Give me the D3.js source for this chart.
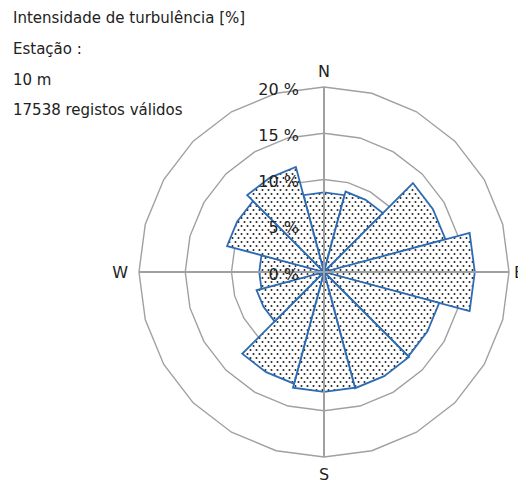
<!DOCTYPE html>
<html><head><meta charset="utf-8">
<script src="https://cdn.jsdelivr.net/npm/d3@7"></script>
<style>body{margin:0;background:#fff}svg{display:block}</style>
</head><body>
<script>
const directions = ["N","NNE","ENE","E","ESE","SSE","S","SSW","WSW","W","WNW","NNW"];
const sectorAngles = [0,30,60,90,120,150,180,210,240,270,300,330];
const frequencies = [8.6,9.0,13.6,16.3,12.9,13.0,12.95,12.5,7.55,7.0,10.85,11.75];
const ringValues = [5,10,15,20];
const tickValues = [0,5,10,15,20];
const tickLabels = ["0 %","5 %","10 %","15 %","20 %"];
const compassLabels = ["N","E","S","W"];
const headerLines = ["Intensidade de turbulência [%]","Estação :","10 m","17538 registos válidos"];

const W = 518, H = 483, cx = 324, cy = 272;
const svg = d3.select("body").append("svg").attr("width",W).attr("height",H);
const defs = svg.append("defs");
const pat = defs.append("pattern").attr("id","dots").attr("patternUnits","userSpaceOnUse")
  .attr("width",6).attr("height",8);
pat.append("rect").attr("width",6).attr("height",8).attr("fill","#fff");
pat.append("circle").attr("cx",1.5).attr("cy",2).attr("r",1.0).attr("fill","#222");
pat.append("circle").attr("cx",4.5).attr("cy",6).attr("r",1.0).attr("fill","#222");

const r = d3.scaleLinear().domain([0,20]).range([0,185]);
const rad = d => d*Math.PI/180;
const g = svg.append("g").attr("transform",`translate(${cx},${cy})`);

// grid rings: 24-gon
const gridAngles = d3.range(0,360,15);
const ringLine = d3.lineRadial().angle(d=>rad(d.a)).radius(d=>r(d.v)).curve(d3.curveLinearClosed);
g.selectAll("path.ring").data(ringValues).join("path").attr("class","ring")
  .attr("d",v=>ringLine(gridAngles.map(a=>({a,v}))))
  .attr("fill","none").attr("stroke","#a0a0a0").attr("stroke-width",1.4);

// bars
const barLine = d3.lineRadial().angle(d=>rad(d.a)).radius(d=>r(d.v)).curve(d3.curveLinearClosed);
const bars = sectorAngles.map((a,i)=>({a,v:frequencies[i]}));
g.selectAll("path.bar").data(bars).join("path").attr("class","bar")
  .attr("d",d=>barLine([{a:d.a,v:0},{a:d.a-15,v:d.v},{a:d.a,v:d.v},{a:d.a+15,v:d.v}]))
  .attr("fill","url(#dots)").attr("stroke","#2e6bb5").attr("stroke-width",1.8).attr("stroke-linejoin","miter");

// axes
const R = r(20);
g.append("line").attr("x1",0).attr("y1",-R).attr("x2",0).attr("y2",R).attr("stroke","#a0a0a0").attr("stroke-width",2);
g.append("line").attr("x1",-R).attr("y1",0).attr("x2",R).attr("y2",0).attr("stroke","#a0a0a0").attr("stroke-width",2);

// tick labels
g.selectAll("text.tick").data(tickValues).join("text").attr("class","tick")
  .attr("x",-25).attr("y",v=>-r(v)+2).attr("text-anchor","end").attr("dominant-baseline","central")
  .attr("font-family","DejaVu Sans").attr("font-size",16).attr("fill","#222")
  .text((v,i)=>tickLabels[i]);

// compass labels
const compassPos = {N:[0,-R-16,"middle"],S:[0,R+17,"middle"],E:[R+5,0,"start"],W:[-R-11,0,"end"]};
g.selectAll("text.cmp").data(compassLabels).join("text").attr("class","cmp")
  .attr("x",d=>compassPos[d][0]).attr("y",d=>compassPos[d][1]).attr("text-anchor",d=>compassPos[d][2])
  .attr("dominant-baseline","central").attr("font-family","DejaVu Sans").attr("font-size",16).attr("fill","#222")
  .text(d=>d);

// header
svg.selectAll("text.hdr").data(headerLines).join("text").attr("class","hdr")
  .attr("x",13).attr("y",(d,i)=>[23,54,85,115][i])
  .attr("font-family","DejaVu Sans").attr("font-size",15).attr("fill","#222").text(d=>d);
</script>
</body></html>
